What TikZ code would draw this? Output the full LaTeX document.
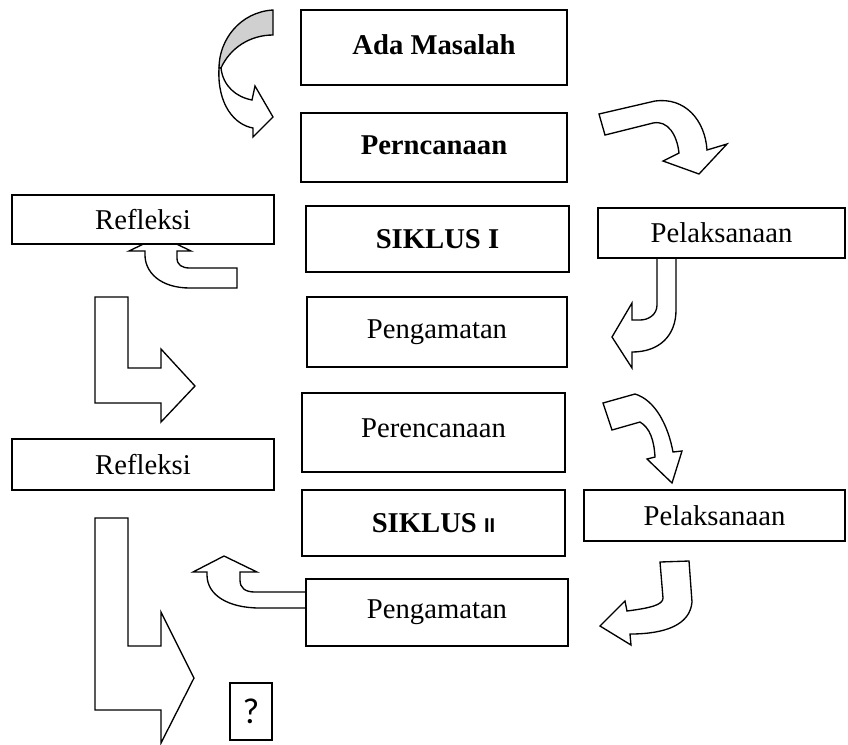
\documentclass[tikz,border=0pt]{standalone}
\usepackage{fontspec}
\setmainfont{Liberation Serif}
\newfontfamily\arialfont{Liberation Sans}
\newfontfamily\calibrifont{Carlito}
\usepackage{tikz}
\usetikzlibrary{positioning}
\definecolor{shade}{HTML}{D0D0D0}

\begin{document}
\begin{tikzpicture}[x=0.75pt, y=-0.75pt,
    box/.style={draw, fill=white, line width=1.3pt, inner sep=0pt,
      font=\fontsize{21.5}{24}\selectfont},
    bx/.style 2 args={minimum width=#1*0.75pt, minimum height=#2*0.75pt},
    blockarrow/.style={draw, fill=white, line width=1pt, line join=miter}]
  \useasboundingbox (0,0) rectangle (848,744);

  % curved arrow into Perncanaan
  \filldraw[blockarrow, fill=shade] (273,10) .. controls (240,12) and (219,40) .. (219,68)
    -- (221,68) .. controls (230,48) and (250,35) .. (273,35) -- cycle;
  \draw[blockarrow] (219,68) .. controls (217,105) and (235,125) .. (253,128)
    -- (253,137) -- (273,117) -- (255,86) -- (252,100)
    .. controls (236,97) and (223,86) .. (221,68) -- cycle;

  % Perncanaan -> Pelaksanaan
  \draw[blockarrow] (599,114) -- (605,135) -- (653,123)
    .. controls (668,120) and (677,135) .. (679,153)
    -- (663,161) -- (699,174) -- (727,144) -- (707,150)
    .. controls (705,120) and (685,97) .. (655,101) -- cycle;

  % Pelaksanaan -> Pengamatan
  \draw[blockarrow] (657,250) -- (657,305) .. controls (657,315) and (648,320) .. (640,320)
    -- (632,320) -- (632,303) -- (612,337) -- (632,368) -- (632,352)
    .. controls (660,352) and (676,335) .. (676,310) -- (676,250) -- cycle;

  % up into Refleksi
  \draw[blockarrow] (160,236) -- (191,251) -- (177,251) -- (177,258)
    .. controls (177,265) and (182,268) .. (190,268) -- (237,268) -- (237,288)
    -- (190,288) .. controls (160,288) and (145,272) .. (145,255)
    -- (145,251) -- (129,251) -- cycle;

  % L arrows on the left
  \draw[blockarrow] (95,297) -- (128,297) -- (128,368) -- (161,368) -- (161,349)
    -- (195,386) -- (161,422) -- (161,403) -- (95,403) -- cycle;
  \draw[blockarrow] (95,518) -- (128,518) -- (128,646) -- (161,646) -- (161,612)
    -- (194,678) -- (161,743) -- (161,710) -- (95,710) -- cycle;

  % Perencanaan -> Pelaksanaan (siklus II)
  \draw[blockarrow] (603,403) -- (612,430) -- (640,422)
    .. controls (650,428) and (654,440) .. (655,457)
    -- (647,459) -- (672,483) -- (682,451) -- (673,452)
    .. controls (668,425) and (655,400) .. (635,394) -- cycle;

  % Pelaksanaan -> Pengamatan (siklus II)
  \draw[blockarrow] (660,562) -- (689,561) -- (692,602)
    .. controls (690,625) and (665,634) .. (630,634)
    -- (631,645) -- (600,626) -- (625,601) -- (627,611)
    .. controls (650,608) and (663,605) .. (663,598) -- cycle;

  % Pengamatan -> up
  \draw[blockarrow] (224,556) -- (257,572) -- (240,572) -- (240,580)
    .. controls (240,588) and (245,592) .. (255,592) -- (310,592) -- (310,608)
    -- (260,608) .. controls (228,608) and (207,595) .. (207,575)
    -- (207,572) -- (193,572) -- cycle;

  % Siklus I
  \node[box, bx={266}{75}] (ada) at (434,47.5) {\raisebox{4pt}{\bfseries Ada Masalah}};
  \node[box, bx={266}{69}] (pern) at (434,147.5) {\raisebox{4pt}{\bfseries Perncanaan}};
  \node[box, bx={263}{66}] (sik1) at (437.5,239) {\bfseries SIKLUS I};
  \node[box, bx={260}{70}] (peng1) at (437,332) {Pengamatan};
  \node[box, bx={262}{49}] (ref1) at (143,219.5) {Refleksi};
  \node[box, bx={247}{50}] (pel1) at (721.5,233) {Pelaksanaan};

  % Siklus II
  \node[box, bx={263}{79}] (pere) at (433.5,432.5) {\raisebox{6pt}{Perencanaan}};
  \node[box, bx={263}{66}] (sik2) at (433.5,523)
    {\bfseries SIKLUS {\arialfont\fontsize{15}{17}\selectfont II}};
  \node[box, bx={262}{67}] (peng2) at (437,612.5) {Pengamatan};
  \node[box, bx={262}{51}] (ref2) at (143,464.5) {Refleksi};
  \node[box, bx={261}{51}] (pel2) at (714.5,515.5) {Pelaksanaan};
  \node[box, bx={42}{57}, font=\calibrifont\fontsize{27}{30}\selectfont] (q) at (251,711.5) {?};
\end{tikzpicture}
\end{document}
